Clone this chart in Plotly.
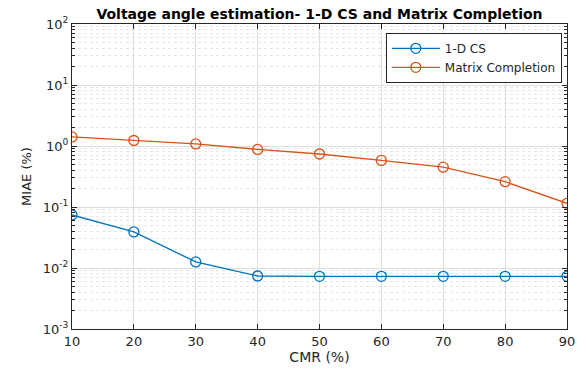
import plotly.graph_objects as go

cmr = [10, 20, 30, 40, 50, 60, 70, 80, 90]
cs_1d = [0.074, 0.039, 0.0126, 0.0074, 0.0073, 0.0073, 0.0073, 0.0073, 0.0073]
matrix_completion = [1.41, 1.23, 1.08, 0.88, 0.74, 0.58, 0.45, 0.26, 0.115]
y_tick_vals = [1e-3, 1e-2, 1e-1, 1, 10, 100]
y_tick_text = ["10<sup>-3</sup>", "10<sup>-2</sup>", "10<sup>-1</sup>", "10<sup>0</sup>", "10<sup>1</sup>", "10<sup>2</sup>"]

minor_vals = [m * 10 ** e for e in range(-3, 2) for m in range(2, 10)]

FONT = "DejaVu Sans, Liberation Sans, Arial, sans-serif"
AX = "#262626"

fig = go.Figure()
fig.add_trace(go.Scatter(x=cmr, y=cs_1d, mode="lines+markers", name="1-D CS",
                         line=dict(color="#0072BD", width=1.3),
                         marker=dict(symbol="circle-open", size=10, color="#0072BD", line=dict(width=1.3))))
fig.add_trace(go.Scatter(x=cmr, y=matrix_completion, mode="lines+markers", name="Matrix Completion",
                         line=dict(color="#D95319", width=1.3),
                         marker=dict(symbol="circle-open", size=10, color="#D95319", line=dict(width=1.3))))

fig.update_layout(
    width=587, height=373,
    margin=dict(l=72, r=17, t=24, b=41),
    paper_bgcolor="white", plot_bgcolor="white",
    font=dict(family=FONT, size=13, color=AX),
    title=dict(text="<b>Voltage angle estimation- 1-D CS and Matrix Completion</b>",
               x=0.5, xref="paper", xanchor="center", y=0.962, yanchor="middle",
               font=dict(size=14, color="black")),
    showlegend=True,
    legend=dict(x=0.634, y=0.971, xanchor="left", yanchor="top",
                bgcolor="white", bordercolor=AX, borderwidth=1,
                font=dict(size=12, color=AX), tracegroupgap=0,
                itemwidth=48),
)
fig.update_xaxes(
    range=[10, 90], tickvals=cmr, ticks="inside", ticklen=5, tickcolor=AX,
    showline=True, linecolor=AX, linewidth=1, mirror="ticks",
    showgrid=True, gridcolor="#dedede", gridwidth=1, zeroline=False,
    title=dict(text="CMR (%)", standoff=3, font=dict(size=14)),
    tickfont=dict(size=13),
)
fig.update_yaxes(
    type="log", range=[-3, 2], tickvals=y_tick_vals, ticktext=y_tick_text,
    ticks="inside", ticklen=5, tickcolor=AX,
    showline=True, linecolor=AX, linewidth=1, mirror="ticks",
    showgrid=True, gridcolor="#dedede", gridwidth=1, zeroline=False,
    minor=dict(tickmode="array", tickvals=minor_vals, ticks="inside", ticklen=3,
               tickcolor=AX, showgrid=True, gridcolor="#e6e6e6", griddash="dot", gridwidth=1),
    title=dict(text="MIAE (%)", standoff=8, font=dict(size=13)),
    tickfont=dict(size=13),
)

fig.write_html("out.html")
